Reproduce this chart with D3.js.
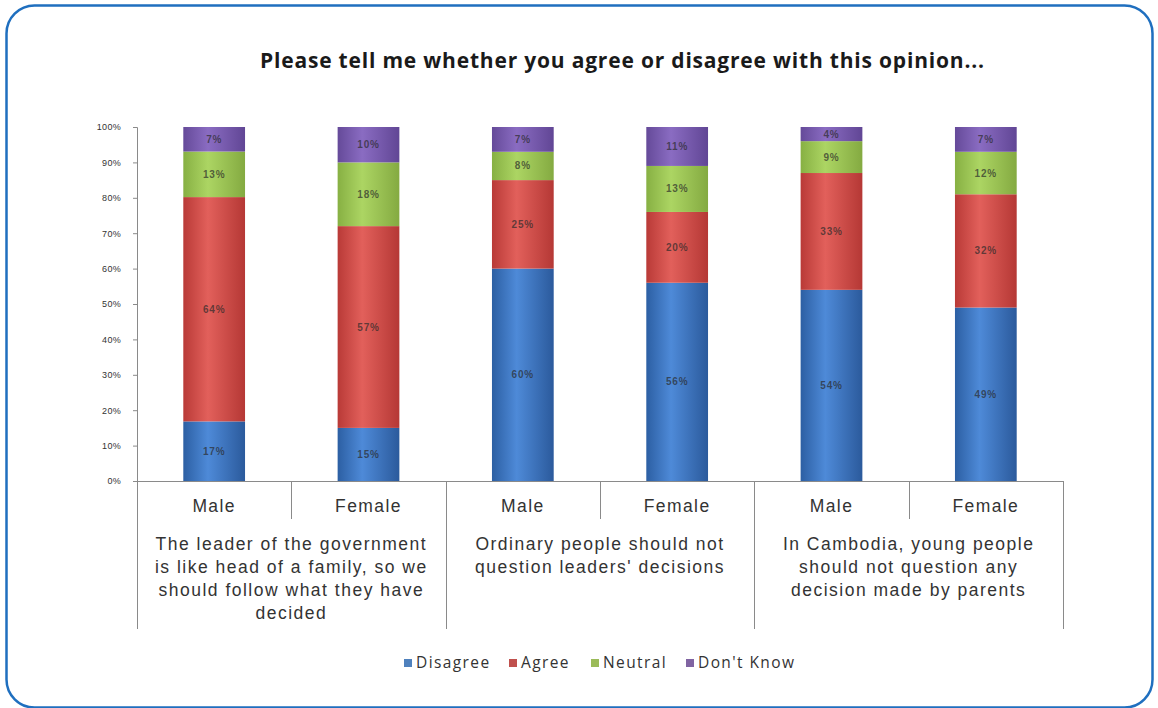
<!DOCTYPE html>
<html>
<head>
<meta charset="utf-8">
<script src="https://cdn.jsdelivr.net/npm/d3@7"></script>
<style>
  html, body { margin: 0; padding: 0; background: #ffffff; }
  svg { display: block; }
</style>
</head>
<body>
<svg id="chart" width="1158" height="708"></svg>
<script>
// Survey responses, percent of respondents per group
const categories = ["Male", "Female", "Male", "Female", "Male", "Female"];
const groups = [
  "The leader of the government|is like head of a family, so we|should follow what they have|decided",
  "Ordinary people should not|question leaders' decisions",
  "In Cambodia, young people|should not question any|decision made by parents"
];
const seriesNames = ["Disagree", "Agree", "Neutral", "Don't Know"];
const disagree = [17, 15, 60, 56, 54, 49];
const agree    = [64, 57, 25, 20, 33, 32];
const neutral  = [13, 18, 8, 13, 9, 12];
const dontKnow = [7, 10, 7, 11, 4, 7];
const yTicks = [0, 0.1, 0.2, 0.3, 0.4, 0.5, 0.6, 0.7, 0.8, 0.9, 1];
const title = "Please tell me whether you agree or disagree with this opinion...";

const seriesValues = [disagree, agree, neutral, dontKnow];
const rows = categories.map((c, i) => {
  const r = { idx: i };
  seriesNames.forEach((s, k) => r[s] = seriesValues[k][i]);
  return r;
});

const svg = d3.select("#chart");

// Rounded frame
svg.append("rect")
  .attr("x", 6.5).attr("y", 5.5)
  .attr("width", 1146).attr("height", 702)
  .attr("rx", 28).attr("ry", 28)
  .attr("fill", "#ffffff")
  .attr("stroke", "#1f6fbf")
  .attr("stroke-width", 2.5);

// Bar shading gradients (cylinder-like)
const palette = {
  "Disagree":   ["#2c5fa3", "#4e8ad8", "#2b5a9c"],
  "Agree":      ["#b93a37", "#e2605b", "#b53835"],
  "Neutral":    ["#87b043", "#acd563", "#84aa41"],
  "Don't Know": ["#654a99", "#8a6cc2", "#614695"]
};
const legendColor = {
  "Disagree": "#4f81bd", "Agree": "#c0504d", "Neutral": "#9bbb59", "Don't Know": "#8064a2"
};
const defs = svg.append("defs");
seriesNames.forEach((s, k) => {
  const g = defs.append("linearGradient").attr("id", "grad" + k)
    .attr("x1", "0%").attr("x2", "100%").attr("y1", "0%").attr("y2", "0%");
  g.append("stop").attr("offset", "0%").attr("stop-color", palette[s][0]);
  g.append("stop").attr("offset", "40%").attr("stop-color", palette[s][1]);
  g.append("stop").attr("offset", "100%").attr("stop-color", palette[s][2]);
});

const plotLeft = 137, plotRight = 1063, plotTop = 127, plotBottom = 481;

const x = d3.scaleBand()
  .domain(d3.range(categories.length))
  .range([plotLeft, plotRight])
  .paddingInner(0.6)
  .paddingOuter(0.3);

const y = d3.scaleLinear().domain([0, 1]).range([plotBottom, plotTop]);

const stack = d3.stack().keys(seriesNames).offset(d3.stackOffsetExpand);
const stacked = stack(rows);

// Title
svg.append("text")
  .attr("x", 622).attr("y", 68)
  .attr("text-anchor", "middle")
  .attr("font-family", "'Open Sans', sans-serif")
  .attr("font-weight", "bold")
  .attr("font-size", 21)
  .attr("textLength", 724)
  .attr("lengthAdjust", "spacing")
  .attr("fill", "#1a1a1a")
  .text(title);

// Y axis
const yAxis = d3.axisLeft(y)
  .tickValues(yTicks)
  .tickFormat(d3.format(".0%"))
  .tickSize(4)
  .tickPadding(12);
const yg = svg.append("g")
  .attr("transform", `translate(${plotLeft},0)`)
  .call(yAxis);
yg.select(".domain").attr("stroke", "#8a8a8a");
yg.selectAll(".tick line").attr("stroke", "#8a8a8a");
yg.selectAll(".tick text")
  .attr("font-family", "'Liberation Sans', Arial, sans-serif")
  .attr("font-size", 9)
  .attr("letter-spacing", 0.3)
  .attr("fill", "#333");

// Bars
const layers = svg.append("g").selectAll("g")
  .data(stacked)
  .join("g")
  .attr("fill", (d, k) => `url(#grad${k})`);

layers.selectAll("rect")
  .data(d => d)
  .join("rect")
  .attr("x", d => x(d.data.idx))
  .attr("width", x.bandwidth())
  .attr("y", d => y(d[1]))
  .attr("height", d => y(d[0]) - y(d[1]));

// Value labels
stacked.forEach(layer => {
  svg.append("g").selectAll("text")
    .data(layer)
    .join("text")
    .attr("x", d => x(d.data.idx) + x.bandwidth() / 2)
    .attr("y", d => (y(d[0]) + y(d[1])) / 2 + 3.5)
    .attr("text-anchor", "middle")
    .attr("font-family", "'Liberation Sans', Arial, sans-serif")
    .attr("font-size", 10)
    .attr("font-weight", "bold")
    .attr("letter-spacing", 0.8)
    .attr("fill", "#2a2a2a")
    .attr("fill-opacity", 0.7)
    .text(d => d.data[layer.key] + "%");
});

// Category axis: baseline and dividers
const axisColor = "#8a8a8a";
svg.append("line")
  .attr("x1", plotLeft).attr("x2", plotRight)
  .attr("y1", plotBottom + 0.5).attr("y2", plotBottom + 0.5)
  .attr("stroke", axisColor);

const step = x.step();
d3.range(categories.length + 1).forEach(i => {
  const xp = Math.round(plotLeft + i * step) + 0.5;
  const long = i % 2 === 0;
  svg.append("line")
    .attr("x1", xp).attr("x2", xp)
    .attr("y1", plotBottom).attr("y2", long ? 629 : 519)
    .attr("stroke", axisColor);
});

// Sub-category labels
svg.append("g").selectAll("text")
  .data(categories)
  .join("text")
  .attr("x", (d, i) => x(i) + x.bandwidth() / 2)
  .attr("y", 512)
  .attr("text-anchor", "middle")
  .attr("font-family", "'Liberation Sans', Arial, sans-serif")
  .attr("font-size", 17.5)
  .attr("letter-spacing", 1.4)
  .attr("fill", "#333")
  .text(d => d);

// Group labels
groups.forEach((g, gi) => {
  const cx = plotLeft + (gi * 2 + 1) * step;
  const t = svg.append("text")
    .attr("text-anchor", "middle")
    .attr("font-family", "'Liberation Sans', Arial, sans-serif")
    .attr("font-size", 17.5)
    .attr("letter-spacing", 1.5)
    .attr("fill", "#333");
  g.split("|").forEach((line, li) => {
    t.append("tspan")
      .attr("x", cx)
      .attr("y", 550 + li * 23)
      .text(line);
  });
});

// Legend
const legendX = [404, 509, 591, 686];
const legend = svg.append("g");
seriesNames.forEach((s, k) => {
  legend.append("rect")
    .attr("x", legendX[k]).attr("y", 659)
    .attr("width", 8).attr("height", 8)
    .attr("fill", legendColor[s]);
  legend.append("text")
    .attr("x", legendX[k] + 12).attr("y", 668)
    .attr("font-family", "'Open Sans', sans-serif")
    .attr("font-size", 15.5)
    .attr("letter-spacing", 1.4)
    .attr("fill", "#333")
    .text(s);
});
</script>
</body>
</html>
